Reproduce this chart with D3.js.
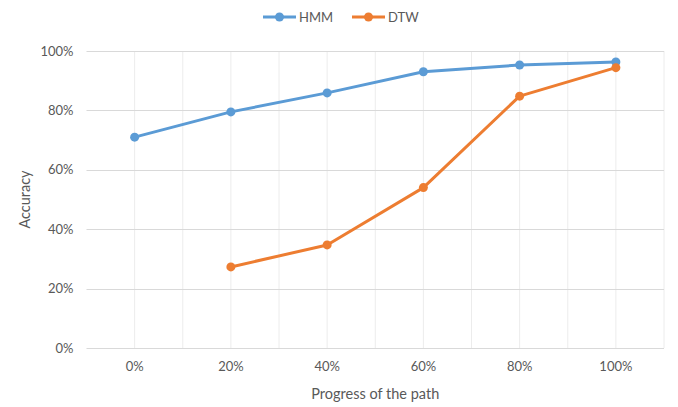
<!DOCTYPE html>
<html><head><meta charset="utf-8">
<script src="https://cdn.jsdelivr.net/npm/d3@7"></script>
<style>body{margin:0;background:#fff}svg{display:block}</style>
</head><body>
<script>
const categories = ["0%","20%","40%","60%","80%","100%"];
const hmm = [0.71, 0.795, 0.859, 0.93, 0.953, 0.963];
const dtw = [null, 0.273, 0.347, 0.54, 0.848, 0.944];
const yTicks = [0, 0.2, 0.4, 0.6, 0.8, 1.0];
const seriesNames = ["HMM","DTW"];
const colors = ["#5B9BD5","#ED7D31"];

const W = 678, H = 407;
const m = {left: 86.5, right: 14, top: 51, bottom: 59};
const svg = d3.select("body").append("svg").attr("width", W).attr("height", H);
const font = "Lato, 'Open Sans', sans-serif";

const x = d3.scaleBand().domain(categories).range([m.left, W - m.right]).padding(0);
const y = d3.scaleLinear().domain([0, 1]).range([H - m.bottom, m.top]);

// vertical gridlines at category centers and edges
const vx = [];
categories.forEach(c => { vx.push(x(c) + x.bandwidth()/2); vx.push(x(c) + x.bandwidth()); });
svg.append("g").selectAll("line").data(vx).join("line")
  .attr("x1", d => d).attr("x2", d => d).attr("y1", y(1)).attr("y2", y(0))
  .attr("stroke", "#ececec").attr("stroke-width", 1);

// horizontal gridlines
svg.append("g").selectAll("line").data(yTicks).join("line")
  .attr("x1", m.left).attr("x2", W - m.right)
  .attr("y1", d => Math.round(y(d)) + 0.5).attr("y2", d => Math.round(y(d)) + 0.5)
  .attr("stroke", "#d9d9d9").attr("stroke-width", 1);

// y axis labels
const yAxis = d3.axisLeft(y).tickValues(yTicks).tickFormat(d3.format(".0%")).tickSize(0).tickPadding(13);
const gy = svg.append("g").attr("transform", `translate(${m.left},0)`).call(yAxis);
gy.select(".domain").remove();
gy.selectAll("text").attr("fill", "#595959").style("font-family", font).style("font-size", "13px");

// x axis labels
const xAxis = d3.axisBottom(x).tickSize(0).tickPadding(14);
const gx = svg.append("g").attr("transform", `translate(0,${y(0)})`).call(xAxis);
gx.select(".domain").remove();
gx.selectAll("text").attr("fill", "#595959").style("font-family", font).style("font-size", "13px");

// axis titles
svg.append("text").attr("x", (m.left + W - m.right)/2).attr("y", 399).attr("text-anchor", "middle")
  .attr("fill", "#595959").style("font-family", font).style("font-size", "14.5px").text("Progress of the path");
svg.append("text").attr("transform", `translate(30,${(y(0)+y(1))/2}) rotate(-90)`).attr("text-anchor", "middle")
  .attr("fill", "#595959").style("font-family", font).style("font-size", "14.5px").text("Accuracy");

// series
const cx = c => x(c) + x.bandwidth()/2;
[hmm, dtw].forEach((vals, i) => {
  const pts = categories.map((c, j) => ({c, v: vals[j]})).filter(d => d.v != null);
  const line = d3.line().x(d => cx(d.c)).y(d => y(d.v));
  svg.append("path").datum(pts).attr("d", line).attr("fill", "none")
    .attr("stroke", colors[i]).attr("stroke-width", 3).attr("stroke-linejoin", "round").attr("stroke-linecap", "round");
  svg.append("g").selectAll("circle").data(pts).join("circle")
    .attr("cx", d => cx(d.c)).attr("cy", d => y(d.v)).attr("r", 4.5).attr("fill", colors[i]);
});

// legend
const legX = [263, 352];
seriesNames.forEach((n, i) => {
  const g = svg.append("g").attr("transform", `translate(${legX[i]},17)`);
  g.append("line").attr("x1", 0).attr("x2", 33).attr("y1", 0).attr("y2", 0).attr("stroke", colors[i]).attr("stroke-width", 3);
  g.append("circle").attr("cx", 16.5).attr("cy", 0).attr("r", 4.5).attr("fill", colors[i]);
  g.append("text").attr("x", 36).attr("y", 0).attr("dy", "0.35em").attr("fill", "#595959")
    .style("font-family", font).style("font-size", "13px").text(n);
});
</script>
</body></html>
